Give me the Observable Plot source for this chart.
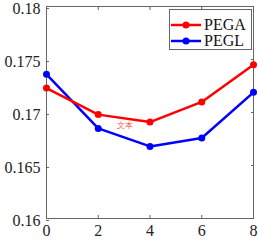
<!DOCTYPE html>
<html><head><meta charset="utf-8">
<script src="https://cdn.jsdelivr.net/npm/d3@7"></script>
<script src="https://cdn.jsdelivr.net/npm/@observablehq/plot@0.6"></script>
<style>
body{margin:0;background:#fff;}
#wrap{position:relative;width:258px;height:241px;}
#wrap svg text{font-family:"Liberation Serif","Times New Roman",serif;}
#legend{position:absolute;left:169px;top:9px;width:83px;height:41px;border:1px solid #666;background:#fff;font-family:"Liberation Serif","Times New Roman",serif;font-size:16px;box-sizing:border-box;color:#111;}
.row{position:absolute;left:1px;height:16px;display:flex;align-items:center;}
.row span{margin-left:3px;}
</style></head>
<body><div id="wrap"></div>
<script>
const xs = [0, 2, 4, 6, 8];
const pega = [0.1723, 0.1698, 0.1691, 0.1710, 0.1745];
const pegl = [0.1736, 0.1685, 0.1668, 0.1676, 0.1719];
const seriesNames = ["PEGA", "PEGL"];
const seriesColors = ["#ff0000", "#0000ff"];
const xTicks = [0, 2, 4, 6, 8];
const yTicks = [0.16, 0.165, 0.17, 0.175, 0.18];
const yTickLabels = ["0.16", "0.165", "0.17", "0.175", "0.18"];
const note = {x: 3.05, y: 0.1688, text: "文本"};

const data = [];
xs.forEach((x, i) => {
  data.push({x, y: pega[i], s: seriesNames[0]});
  data.push({x, y: pegl[i], s: seriesNames[1]});
});
const order = ["PEGL", "PEGA"];
const sorted = data.slice().sort((a, b) => order.indexOf(a.s) - order.indexOf(b.s));

const axisColor = "#666";
const serif = "'Liberation Serif', 'Times New Roman', serif";
const chart = Plot.plot({
  width: 258, height: 241,
  marginLeft: 46, marginRight: 5, marginTop: 6, marginBottom: 23,
  style: {fontFamily: serif, fontSize: "16px", color: "#222", background: "#fff", overflow: "visible"},
  x: {domain: [0, 8]},
  y: {domain: [0.16, 0.18]},
  color: {domain: seriesNames, range: seriesColors},
  marks: [
    Plot.frame({stroke: axisColor}),
    Plot.axisX(xTicks, {anchor: "bottom", tickSize: -3, tickPadding: 9, stroke: axisColor, fill: "#222", label: null, fontSize: 16, fontFamily: serif}),
    Plot.axisX(xTicks, {anchor: "top", tickSize: -3, text: null, stroke: axisColor, label: null}),
    Plot.axisY(yTicks, {anchor: "left", tickSize: -3, tickPadding: 9, dy: 2, stroke: axisColor, fill: "#222", label: null, fontSize: 16, fontFamily: serif,
      tickFormat: (d) => yTickLabels[yTicks.indexOf(d)]}),
    Plot.axisY(yTicks, {anchor: "right", tickSize: -3, text: null, stroke: axisColor, label: null}),
    Plot.line(sorted, {x: "x", y: "y", z: "s", stroke: "s", strokeWidth: 2.5}),
    Plot.dot(sorted, {x: "x", y: "y", fill: "s", r: 3.5}),
    Plot.text([note], {x: "x", y: "y", text: "text", fill: "#ff5555", fontSize: 8, fontFamily: "'Noto Sans CJK SC'"})
  ]
});
const wrap = document.getElementById("wrap");
wrap.appendChild(chart);

const leg = document.createElement("div");
leg.id = "legend";
seriesNames.forEach((n, i) => {
  const row = document.createElement("div");
  row.className = "row";
  row.style.top = (i === 0 ? 7 : 23) + "px";
  row.innerHTML = `<svg width="30" height="10"><line x1="0" x2="30" y1="5" y2="5" stroke="${seriesColors[i]}" stroke-width="2.5"/><circle cx="15" cy="5" r="3.5" fill="${seriesColors[i]}"/></svg><span>${n}</span>`;
  leg.appendChild(row);
});
wrap.appendChild(leg);
</script></body></html>
